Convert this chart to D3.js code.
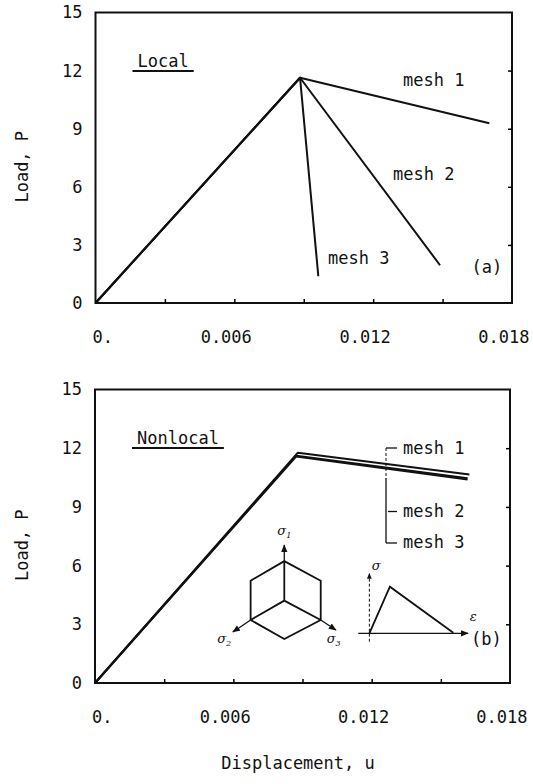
<!DOCTYPE html>
<html>
<head>
<meta charset="utf-8">
<script src="https://cdn.jsdelivr.net/npm/d3@7"></script>
<style>
  body { margin: 0; background: #fff; }
  text { font-family: "DejaVu Sans Mono", "Liberation Mono", monospace; font-size: 17px; fill: #111; }
  .sym { font-family: "DejaVu Serif", serif; font-style: italic; font-size: 13px; }
</style>
</head>
<body>
<svg id="chart" width="533" height="784"></svg>
<script>
// axis ticks
const xTicks = [0, 0.006, 0.012, 0.018];
const xTickLabels = ["0.", "0.006", "0.012", "0.018"];
const xMinorTicks = [0.003, 0.006, 0.009, 0.012, 0.015];
const yTicks = [0, 3, 6, 9, 12, 15];
const yInnerTicks = [3, 6, 9, 12];

// (a) local model : [displacement u, load P]
const localMesh1 = [[0, 0], [0.00884, 11.63], [0.01702, 9.28]];
const localMesh2 = [[0, 0], [0.00884, 11.63], [0.01489, 1.95]];
const localMesh3 = [[0, 0], [0.00884, 11.63], [0.00963, 1.38]];

// (b) nonlocal model
const nonlocalMesh1 = [[0, 0], [0.00880, 11.77], [0.01624, 10.66]];
const nonlocalMesh2 = [[0, 0], [0.00873, 11.62], [0.01616, 10.47]];
const nonlocalMesh3 = [[0, 0], [0.00873, 11.58], [0.01616, 10.40]];

// inset sketches in panel (b), given in the panel's own (u, P) units
const hexOutline = [[0.00821, 6.23], [0.00979, 5.23], [0.00979, 3.22], [0.00821, 2.25],
                    [0.00675, 3.22], [0.00675, 5.23], [0.00821, 6.23]];
const hexCenter = [0.00821, 4.21];
const hexInner = [[0.00821, 6.23], [0.00675, 3.22], [0.00979, 3.22]];
const sigmaAxes = [
  { from: [0.00821, 6.23], to: [0.00821, 7.05], sub: "1", at: [0.00821, 7.55] },
  { from: [0.00675, 3.22], to: [0.00598, 2.61], sub: "2", at: [0.00560, 2.05] },
  { from: [0.00979, 3.22], to: [0.01045, 2.71], sub: "3", at: [0.01035, 2.05] }
];
const softening = [[0.01190, 2.54], [0.01279, 4.92], [0.01554, 2.57]];
const strainAxis = [[0.01142, 2.54], [0.01618, 2.54]];
const stressAxis = [[0.01190, 2.11], [0.01190, 5.60]];

const svg = d3.select("#chart");

svg.append("defs").append("marker")
  .attr("id", "arrow")
  .attr("viewBox", "0 0 10 10")
  .attr("refX", 9).attr("refY", 5)
  .attr("markerWidth", 6).attr("markerHeight", 6)
  .attr("orient", "auto")
  .append("path").attr("d", "M0,1 L10,5 L0,9 Z").attr("fill", "#111");

const renderPanel = (box, series) => {
  const g = svg.append("g");

  const x = d3.scaleLinear().domain([0, 0.018]).range([box.left, box.right]);
  const y = d3.scaleLinear().domain([0, 15]).range([box.bottom, box.top]);

  // frame
  g.append("rect")
    .attr("x", x(0)).attr("y", y(15))
    .attr("width", x(0.018) - x(0)).attr("height", y(0) - y(15))
    .attr("fill", "none").attr("stroke", "#111").attr("stroke-width", 2);

  // inward ticks
  g.append("g")
    .attr("transform", `translate(0,${y(0)})`)
    .call(d3.axisBottom(x).tickValues(xMinorTicks).tickSize(-4).tickFormat(""))
    .call(a => a.select(".domain").remove())
    .selectAll("line").attr("stroke-width", 1.5);
  g.append("g")
    .attr("transform", `translate(${x(0.018)},0)`)
    .call(d3.axisRight(y).tickValues(yInnerTicks).tickSize(-4).tickFormat(""))
    .call(a => a.select(".domain").remove())
    .selectAll("line").attr("stroke-width", 1.5);

  // tick labels
  g.append("g")
    .attr("transform", `translate(0,${y(0)})`)
    .call(d3.axisBottom(x).tickValues(xTicks).tickSize(0).tickPadding(28)
      .tickFormat((d, i) => xTickLabels[i]))
    .call(a => a.select(".domain").remove())
    .selectAll("text").attr("text-anchor", "end").attr("dx", 17);
  g.append("g")
    .attr("transform", `translate(${x(0)},0)`)
    .call(d3.axisLeft(y).tickValues(yTicks).tickSize(0).tickPadding(13))
    .call(a => a.select(".domain").remove());

  // y title
  g.append("text")
    .attr("transform", `translate(${box.left - 73},${(box.top + box.bottom) / 2 + 9}) rotate(-90)`)
    .attr("text-anchor", "middle")
    .attr("dy", "0.35em")
    .text("Load, P");

  const line = d3.line().x(d => x(d[0])).y(d => y(d[1]));
  series.forEach(s => {
    g.append("path")
      .datum(s)
      .attr("fill", "none")
      .attr("stroke", "#111")
      .attr("stroke-width", 2)
      .attr("stroke-linejoin", "round")
      .attr("d", line);
  });

  // underlined model title
  const title = g.append("text")
    .attr("x", box.left + 42).attr("y", box.top + 54.5)
    .text(box.title);
  const w = title.node().getComputedTextLength();
  g.append("line")
    .attr("x1", box.left + 37).attr("x2", box.left + 47 + w)
    .attr("y1", box.top + 58.5).attr("y2", box.top + 58.5)
    .attr("stroke", "#111").attr("stroke-width", 2);

  g.append("text").attr("x", box.left + 376).attr("y", box.bottom - box.tagLift).text(box.tag);

  return { g, x, y, line };
};

// ---- (a) Local
const panelA = renderPanel(
  { left: 95.5, right: 512, top: 12.5, bottom: 303, title: "Local", tag: "(a)", tagLift: 30 },
  [localMesh1, localMesh2, localMesh3]
);
panelA.g.append("text").attr("x", 403).attr("y", 86).text("mesh 1");
panelA.g.append("text").attr("x", 393).attr("y", 180).text("mesh 2");
panelA.g.append("text").attr("x", 328).attr("y", 264).text("mesh 3");

// ---- (b) Nonlocal
const panelB = renderPanel(
  { left: 95, right: 510, top: 389.5, bottom: 683, title: "Nonlocal", tag: "(b)", tagLift: 38 },
  [nonlocalMesh1, nonlocalMesh2, nonlocalMesh3]
);
const bg = panelB.g;
[["mesh 1", 454], ["mesh 2", 517], ["mesh 3", 548]].forEach(([t, yy]) => {
  bg.append("text").attr("x", 403).attr("y", yy).text(t);
});
// bracket joining the labels
bg.append("line").attr("x1", 386).attr("x2", 386).attr("y1", 448).attr("y2", 478)
  .attr("stroke", "#111").attr("stroke-width", 1).attr("stroke-dasharray", "3,2");
bg.append("line").attr("x1", 386).attr("x2", 386).attr("y1", 478).attr("y2", 543)
  .attr("stroke", "#111").attr("stroke-width", 1.3);
[[448, 386], [511.5, 388], [543, 386]].forEach(([yy, x0]) => {
  bg.append("line").attr("x1", x0).attr("x2", 397).attr("y1", yy).attr("y2", yy)
    .attr("stroke", "#111").attr("stroke-width", 1.3);
});

// hexagon inset
const ink = (sel, w) => sel.attr("fill", "none").attr("stroke", "#111").attr("stroke-width", w);
ink(bg.append("path").datum(hexOutline).attr("d", panelB.line), 1.8);
hexInner.forEach(p => {
  ink(bg.append("path").datum([hexCenter, p]).attr("d", panelB.line), 1.8);
});
sigmaAxes.forEach(a => {
  ink(bg.append("path").datum([a.from, a.to]).attr("d", panelB.line), 1.3)
    .attr("marker-end", "url(#arrow)");
  const t = bg.append("text").attr("class", "sym")
    .attr("x", panelB.x(a.at[0])).attr("y", panelB.y(a.at[1]))
    .attr("text-anchor", "middle").text("σ");
  t.append("tspan").attr("dy", 3).style("font-size", "8px").text(a.sub);
});

// stress-strain inset
ink(bg.append("path").datum(stressAxis).attr("d", panelB.line), 1)
  .attr("stroke-dasharray", "3,2").attr("marker-end", "url(#arrow)");
ink(bg.append("path").datum(strainAxis).attr("d", panelB.line), 1.3)
  .attr("marker-end", "url(#arrow)");
ink(bg.append("path").datum(softening).attr("d", panelB.line), 1.8);
bg.append("text").attr("class", "sym")
  .attr("x", panelB.x(0.01200)).attr("y", panelB.y(5.75)).text("σ");
bg.append("text").attr("class", "sym")
  .attr("x", panelB.x(0.01625)).attr("y", panelB.y(3.15)).text("ε");

// shared x title
svg.append("text")
  .attr("x", 298).attr("y", 769)
  .attr("text-anchor", "middle")
  .text("Displacement, u");
</script>
</body>
</html>
